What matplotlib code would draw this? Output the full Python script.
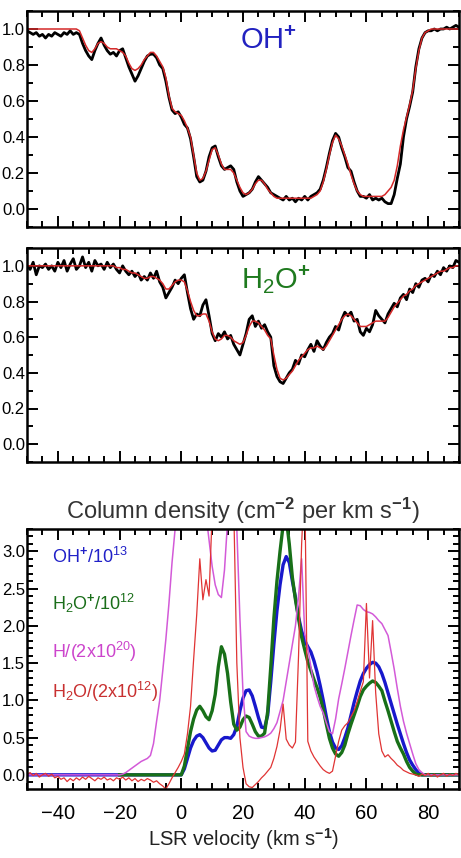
import numpy as np
import matplotlib
matplotlib.use("Agg")
import matplotlib.pyplot as plt
from matplotlib.ticker import MultipleLocator, FormatStrFormatter

plt.rcParams['font.family'] = ['Liberation Sans', 'DejaVu Sans']
plt.rcParams['mathtext.fontset'] = 'custom'
plt.rcParams['mathtext.rm'] = 'Liberation Sans'
plt.rcParams['mathtext.bf'] = 'Liberation Sans:bold'
plt.rcParams['mathtext.it'] = 'Liberation Sans'

# LSR velocity grid (km/s), one point per km/s
vel = np.arange(-50, 91)

# OH+ observed spectrum (normalised) and fit
oh_obs = [0.99, 0.98, 0.97, 0.98, 0.96, 0.97, 0.95, 0.97, 0.96, 0.98,
          0.97, 0.96, 0.98, 0.97, 0.99, 0.97, 0.98, 0.97, 0.92, 0.88,
          0.85, 0.83, 0.88, 0.92, 0.95, 0.91, 0.88, 0.86, 0.87, 0.85,
          0.88, 0.89, 0.84, 0.79, 0.75, 0.71, 0.74, 0.78, 0.82, 0.85,
          0.86, 0.86, 0.84, 0.80, 0.78, 0.71, 0.62, 0.55, 0.53, 0.54,
          0.51, 0.47, 0.45, 0.39, 0.29, 0.18, 0.15, 0.16, 0.21, 0.29,
          0.34, 0.35, 0.29, 0.24, 0.22, 0.23, 0.24, 0.22, 0.15, 0.10,
          0.07, 0.08, 0.09, 0.11, 0.15, 0.18, 0.16, 0.14, 0.12, 0.09,
          0.08, 0.07, 0.06, 0.05, 0.07, 0.05, 0.06, 0.04, 0.06, 0.05,
          0.07, 0.05, 0.07, 0.08, 0.09, 0.11, 0.16, 0.23, 0.31, 0.38,
          0.42, 0.40, 0.34, 0.29, 0.23, 0.21, 0.15, 0.10, 0.07, 0.07,
          0.06, 0.08, 0.05, 0.06, 0.05, 0.06, 0.04, 0.03, 0.03, 0.08,
          0.17, 0.25, 0.40, 0.50, 0.57, 0.65, 0.79, 0.89, 0.95, 0.98,
          0.99, 0.99, 1.00, 0.99, 1.00, 1.00, 1.01, 1.00, 1.01, 1.02,
          1.01]
oh_fit = [1.00, 1.00, 1.00, 1.00, 1.00, 1.00, 1.00, 1.00, 1.00, 1.00,
          1.00, 1.00, 1.00, 1.00, 1.00, 1.00, 1.00, 0.99, 0.95, 0.91,
          0.88, 0.87, 0.89, 0.92, 0.93, 0.92, 0.90, 0.89, 0.89, 0.89,
          0.88, 0.87, 0.85, 0.81, 0.78, 0.77, 0.78, 0.80, 0.83, 0.85,
          0.87, 0.87, 0.85, 0.82, 0.79, 0.73, 0.63, 0.56, 0.54, 0.53,
          0.52, 0.49, 0.45, 0.40, 0.30, 0.20, 0.16, 0.17, 0.21, 0.27,
          0.33, 0.34, 0.30, 0.25, 0.22, 0.22, 0.22, 0.20, 0.16, 0.12,
          0.09, 0.08, 0.09, 0.11, 0.14, 0.16, 0.16, 0.14, 0.11, 0.09,
          0.07, 0.06, 0.06, 0.06, 0.06, 0.06, 0.06, 0.06, 0.06, 0.06,
          0.06, 0.06, 0.06, 0.07, 0.08, 0.10, 0.15, 0.22, 0.30, 0.37,
          0.41, 0.39, 0.35, 0.30, 0.25, 0.19, 0.14, 0.10, 0.08, 0.07,
          0.07, 0.07, 0.07, 0.07, 0.07, 0.07, 0.08, 0.10, 0.12, 0.16,
          0.24, 0.35, 0.44, 0.51, 0.58, 0.66, 0.78, 0.88, 0.95, 0.98,
          0.99, 1.00, 1.00, 1.00, 1.00, 1.00, 1.00, 1.00, 1.00, 1.00,
          1.00]

# H2O+ observed spectrum (normalised) and fit
h2op_obs = [1.00, 0.98, 1.02, 0.95, 1.00, 0.99, 1.01, 0.98, 1.00, 0.97,
            1.02, 0.99, 1.03, 0.97, 1.01, 1.04, 0.98, 1.00, 1.05, 0.99,
            1.02, 0.97, 1.03, 1.00, 1.01, 0.98, 1.02, 0.99, 1.01, 0.98,
            0.96, 1.00, 0.97, 0.95, 0.97, 0.94, 0.96, 0.92, 0.94, 0.92,
            0.96, 0.93, 0.97, 0.91, 0.88, 0.82, 0.85, 0.88, 0.92, 0.90,
            0.93, 0.95, 0.85, 0.76, 0.70, 0.73, 0.72, 0.78, 0.81, 0.72,
            0.62, 0.58, 0.62, 0.60, 0.63, 0.59, 0.61, 0.56, 0.53, 0.50,
            0.56, 0.62, 0.70, 0.72, 0.66, 0.69, 0.65, 0.67, 0.63, 0.60,
            0.44, 0.38, 0.35, 0.34, 0.37, 0.40, 0.42, 0.47, 0.45, 0.50,
            0.49, 0.53, 0.56, 0.52, 0.58, 0.55, 0.53, 0.57, 0.60, 0.62,
            0.66, 0.64, 0.70, 0.74, 0.72, 0.74, 0.69, 0.70, 0.63, 0.61,
            0.65, 0.63, 0.67, 0.75, 0.72, 0.70, 0.68, 0.73, 0.76, 0.79,
            0.77, 0.82, 0.84, 0.81, 0.87, 0.85, 0.90, 0.88, 0.92, 0.93,
            0.91, 0.95, 0.94, 0.97, 0.95, 0.99, 0.97, 1.00, 0.99, 1.03,
            1.02]
h2op_fit = [1.00, 1.00, 1.00, 1.00, 1.00, 1.00, 1.00, 1.00, 1.00, 1.00,
            1.00, 1.00, 1.00, 1.00, 1.00, 1.00, 1.00, 1.00, 1.00, 1.00,
            1.00, 1.00, 1.00, 1.00, 1.00, 1.00, 1.00, 1.00, 1.00, 0.99,
            0.99, 0.98, 0.98, 0.97, 0.96, 0.96, 0.95, 0.94, 0.93, 0.93,
            0.94, 0.94, 0.93, 0.92, 0.90, 0.87, 0.87, 0.89, 0.91, 0.92,
            0.92, 0.91, 0.86, 0.80, 0.75, 0.72, 0.72, 0.73, 0.73, 0.69,
            0.63, 0.59, 0.58, 0.59, 0.61, 0.61, 0.60, 0.58, 0.57, 0.56,
            0.57, 0.61, 0.66, 0.69, 0.69, 0.68, 0.66, 0.64, 0.61, 0.59,
            0.50, 0.42, 0.37, 0.36, 0.37, 0.39, 0.41, 0.44, 0.47, 0.49,
            0.51, 0.53, 0.54, 0.54, 0.55, 0.54, 0.53, 0.55, 0.58, 0.61,
            0.64, 0.67, 0.70, 0.72, 0.73, 0.72, 0.70, 0.68, 0.66, 0.66,
            0.66, 0.67, 0.68, 0.69, 0.69, 0.69, 0.69, 0.71, 0.74, 0.77,
            0.79, 0.81, 0.83, 0.84, 0.86, 0.87, 0.89, 0.90, 0.91, 0.92,
            0.93, 0.94, 0.95, 0.96, 0.97, 0.97, 0.98, 0.99, 0.99, 1.00,
            1.00]

# column densities per km/s (scaled)
oh_col = [0.0] * 50 + [
    0.00, 0.08, 0.22, 0.36, 0.46, 0.52, 0.54, 0.50, 0.43, 0.36,
    0.32, 0.33, 0.40, 0.47, 0.50, 0.50, 0.49, 0.54, 0.65, 0.86,
    1.03, 1.13, 1.14, 1.06, 0.92, 0.77, 0.64, 0.63, 0.80, 1.25,
    1.75, 2.20, 2.55, 2.82, 2.93, 2.85, 2.60, 2.38, 2.12, 1.93,
    1.80, 1.72, 1.65, 1.53, 1.38, 1.20, 1.00, 0.78, 0.58, 0.44,
    0.36, 0.34, 0.39, 0.50, 0.63, 0.80, 0.97, 1.12, 1.26, 1.36,
    1.43, 1.48, 1.51, 1.50, 1.45, 1.36, 1.24, 1.10, 0.96, 0.82,
    0.68, 0.55, 0.42, 0.30, 0.20, 0.13, 0.07, 0.02, 0.00, 0.00,
    0.00, 0.00, 0.00, 0.00, 0.00, 0.00, 0.00, 0.00, 0.00, 0.00,
    0.00]
# H2O+ column, given from -20 km/s onwards
h2op_col = [0.0] * 20 + [
    0.00, 0.12, 0.35, 0.58, 0.75, 0.87, 0.92, 0.86, 0.78, 0.74,
    0.86, 1.08, 1.45, 1.72, 1.62, 1.36, 0.98, 0.68, 0.60, 0.64,
    0.74, 0.79, 0.77, 0.68, 0.58, 0.52, 0.52, 0.56, 0.85, 1.45,
    2.10, 2.60, 3.00, 3.35, 3.45, 3.10, 2.65, 2.35, 2.10, 1.85,
    1.68, 1.52, 1.40, 1.28, 1.17, 1.04, 0.88, 0.68, 0.49, 0.36,
    0.28, 0.25, 0.30, 0.40, 0.55, 0.68, 0.80, 0.92, 1.05, 1.14,
    1.19, 1.23, 1.26, 1.24, 1.19, 1.13, 0.99, 0.86, 0.72, 0.58,
    0.45, 0.36, 0.28, 0.18, 0.10, 0.05, 0.01, 0.00, 0.00, 0.00,
    0.00, 0.00, 0.00, 0.00, 0.00, 0.00, 0.00, 0.00, 0.00, 0.00,
    0.00]
h_col = [0.0] * 30 + [
    0.00, 0.01, 0.03, 0.06, 0.09, 0.12, 0.15, 0.18, 0.20, 0.22,
    0.26, 0.42, 0.72, 1.00, 1.40, 1.82, 2.30, 2.85, 3.30, 3.70,
    4.20, 4.60, 4.80, 4.90, 4.80, 4.60, 4.30, 3.90, 3.50, 3.15,
    2.80, 2.55, 2.42, 2.38, 2.75, 3.40, 3.90, 3.80, 3.30, 2.10,
    1.10, 0.58, 0.52, 0.50, 0.49, 0.49, 0.50, 0.51, 0.53, 0.56,
    0.62, 0.70, 0.85, 1.00, 1.25, 1.50, 1.75, 2.00, 2.40, 2.90,
    1.90, 1.70, 1.45, 1.20, 1.05, 0.92, 0.83, 0.70, 0.58, 0.55,
    0.75, 1.02, 1.22, 1.43, 1.65, 1.87, 2.08, 2.28, 2.27, 2.22,
    2.19, 2.18, 2.16, 2.12, 2.07, 2.03, 1.95, 1.87, 1.65, 1.42,
    1.16, 0.92, 0.72, 0.56, 0.42, 0.28, 0.15, 0.07, 0.03, 0.00,
    0.00, 0.00, 0.00, 0.00, 0.00, 0.00, 0.00, 0.00, 0.00, 0.00,
    0.00]
h2o_col = [0.01, 0.03, -0.01, 0.02, -0.03, 0.00, 0.02, -0.02, 0.01, -0.04,
           -0.02, -0.06, -0.04, -0.09, -0.05, -0.08, -0.04, -0.07, -0.03, -0.06,
           -0.02, -0.05, -0.08, -0.04, -0.06, -0.03, -0.07, -0.05, -0.08, -0.04,
           -0.06, -0.03, -0.07, -0.04, -0.08, -0.05, -0.09, -0.06, -0.08, -0.05,
           -0.07, -0.10, -0.08, -0.12, -0.15, -0.19, -0.12, -0.04, 0.03, 0.10,
           0.18, 0.28, 0.55, 0.92, 1.55, 2.15, 2.90, 2.35, 2.62, 2.40,
           3.50, 4.20, 4.50, 4.40, 4.20, 4.00, 3.80, 3.60, 1.50, 0.50,
           0.10, -0.12, -0.16, -0.17, -0.13, -0.09, -0.04, 0.00, 0.05, 0.10,
           0.22, 0.38, 0.60, 0.95, 0.48, 0.40, 0.36, 0.44, 1.60, 3.10,
           4.00, 0.45, 0.32, 0.24, 0.18, 0.12, 0.07, 0.04, 0.02, 0.05,
           0.25, 0.45, 0.60, 0.66, 0.70, 0.78, 0.86, 0.98, 1.12, 1.25,
           2.30, 1.30, 2.07, 1.10, 0.55, 0.32, 0.24, 0.27, 0.22, 0.18,
           0.13, 0.10, 0.06, 0.04, 0.02, 0.01, 0.00, -0.02, 0.01, -0.01,
           0.02, -0.02, 0.01, -0.03, 0.00, 0.02, -0.02, 0.01, -0.01, 0.02,
           0.00]

W, H = 461, 858
fig = plt.figure(figsize=(W / 100, H / 100), dpi=100)
ax1 = fig.add_axes([27 / W, 631 / H, 432 / W, 216 / H])
ax2 = fig.add_axes([27 / W, 396 / H, 432 / W, 214 / H])
ax3 = fig.add_axes([27 / W, 69 / H, 432 / W, 260 / H])


def style(ax, ymaj, ymin):
    ax.set_xlim(-50, 90)
    ax.xaxis.set_major_locator(MultipleLocator(20))
    ax.xaxis.set_minor_locator(MultipleLocator(5))
    ax.yaxis.set_major_locator(MultipleLocator(ymaj))
    ax.yaxis.set_minor_locator(MultipleLocator(ymin))
    ax.yaxis.set_major_formatter(FormatStrFormatter('%.1f'))
    ax.tick_params(which='both', direction='in', top=True, right=True,
                   width=1.4)
    ax.tick_params(which='major', length=8)
    ax.tick_params(which='minor', length=4.5)
    ax.tick_params(axis='y', labelsize=12, pad=1.5)
    for s in ax.spines.values():
        s.set_linewidth(1.8)


# top: OH+
ax1.plot(vel, oh_obs, color='black', lw=2.0)
ax1.plot(vel, oh_fit, color='#d42828', lw=1.1)
ax1.set_ylim(-0.1, 1.1)
style(ax1, 0.2, 0.1)
ax1.tick_params(labelbottom=False)
ax1.text(0.56, 0.86, r'OH$^{\mathbf{+}}$', transform=ax1.transAxes,
         color='#2222c0', fontsize=21, ha='center', va='center')

# middle: H2O+
ax2.plot(vel, h2op_obs, color='black', lw=2.0)
ax2.plot(vel, h2op_fit, color='#d42828', lw=1.1)
ax2.set_ylim(-0.1, 1.1)
style(ax2, 0.2, 0.1)
ax2.tick_params(labelbottom=False)
ax2.text(0.575, 0.85, r'H$_2$O$^{\mathbf{+}}$', transform=ax2.transAxes,
         color='#1f7a1f', fontsize=21, ha='center', va='center')

# bottom: column densities
ax3.plot(vel, oh_col, color='#1818cc', lw=2.4)
ax3.plot(vel[30:], h2op_col, color='#187018', lw=2.4)
ax3.plot(vel, h_col, color='#d35ad8', lw=1.1)
ax3.plot(vel, h2o_col, color='#e03434', lw=0.9)
ax3.set_ylim(-0.19, 3.3)
style(ax3, 0.5, 0.1)
ax3.tick_params(axis='x', labelsize=14.5, pad=11)
ax3.set_title(r'Column density (cm$^{\mathbf{-2}}$ per km s$^{\mathbf{-1}}$)',
              fontsize=17, color='#333333', pad=7)
ax3.set_xlabel(r'LSR velocity (km s$^{\mathbf{-1}}$)', fontsize=14.5,
               color='#222222', labelpad=2)

labels = [r'OH$^{\mathbf{+}}$/10$^{13}$', r'H$_2$O$^{\mathbf{+}}$/10$^{12}$',
          r'H/(2x10$^{20}$)', r'H$_2$O/(2x10$^{12}$)']
label_colors = ['#2020c8', '#1a6e1a', '#cc44cc', '#c83030']
label_y = [2.93, 2.30, 1.65, 1.11]
for t, c, y in zip(labels, label_colors, label_y):
    ax3.text(-42, y, t, color=c, fontsize=13, ha='left', va='center')

fig.savefig('out.png', dpi=100)
